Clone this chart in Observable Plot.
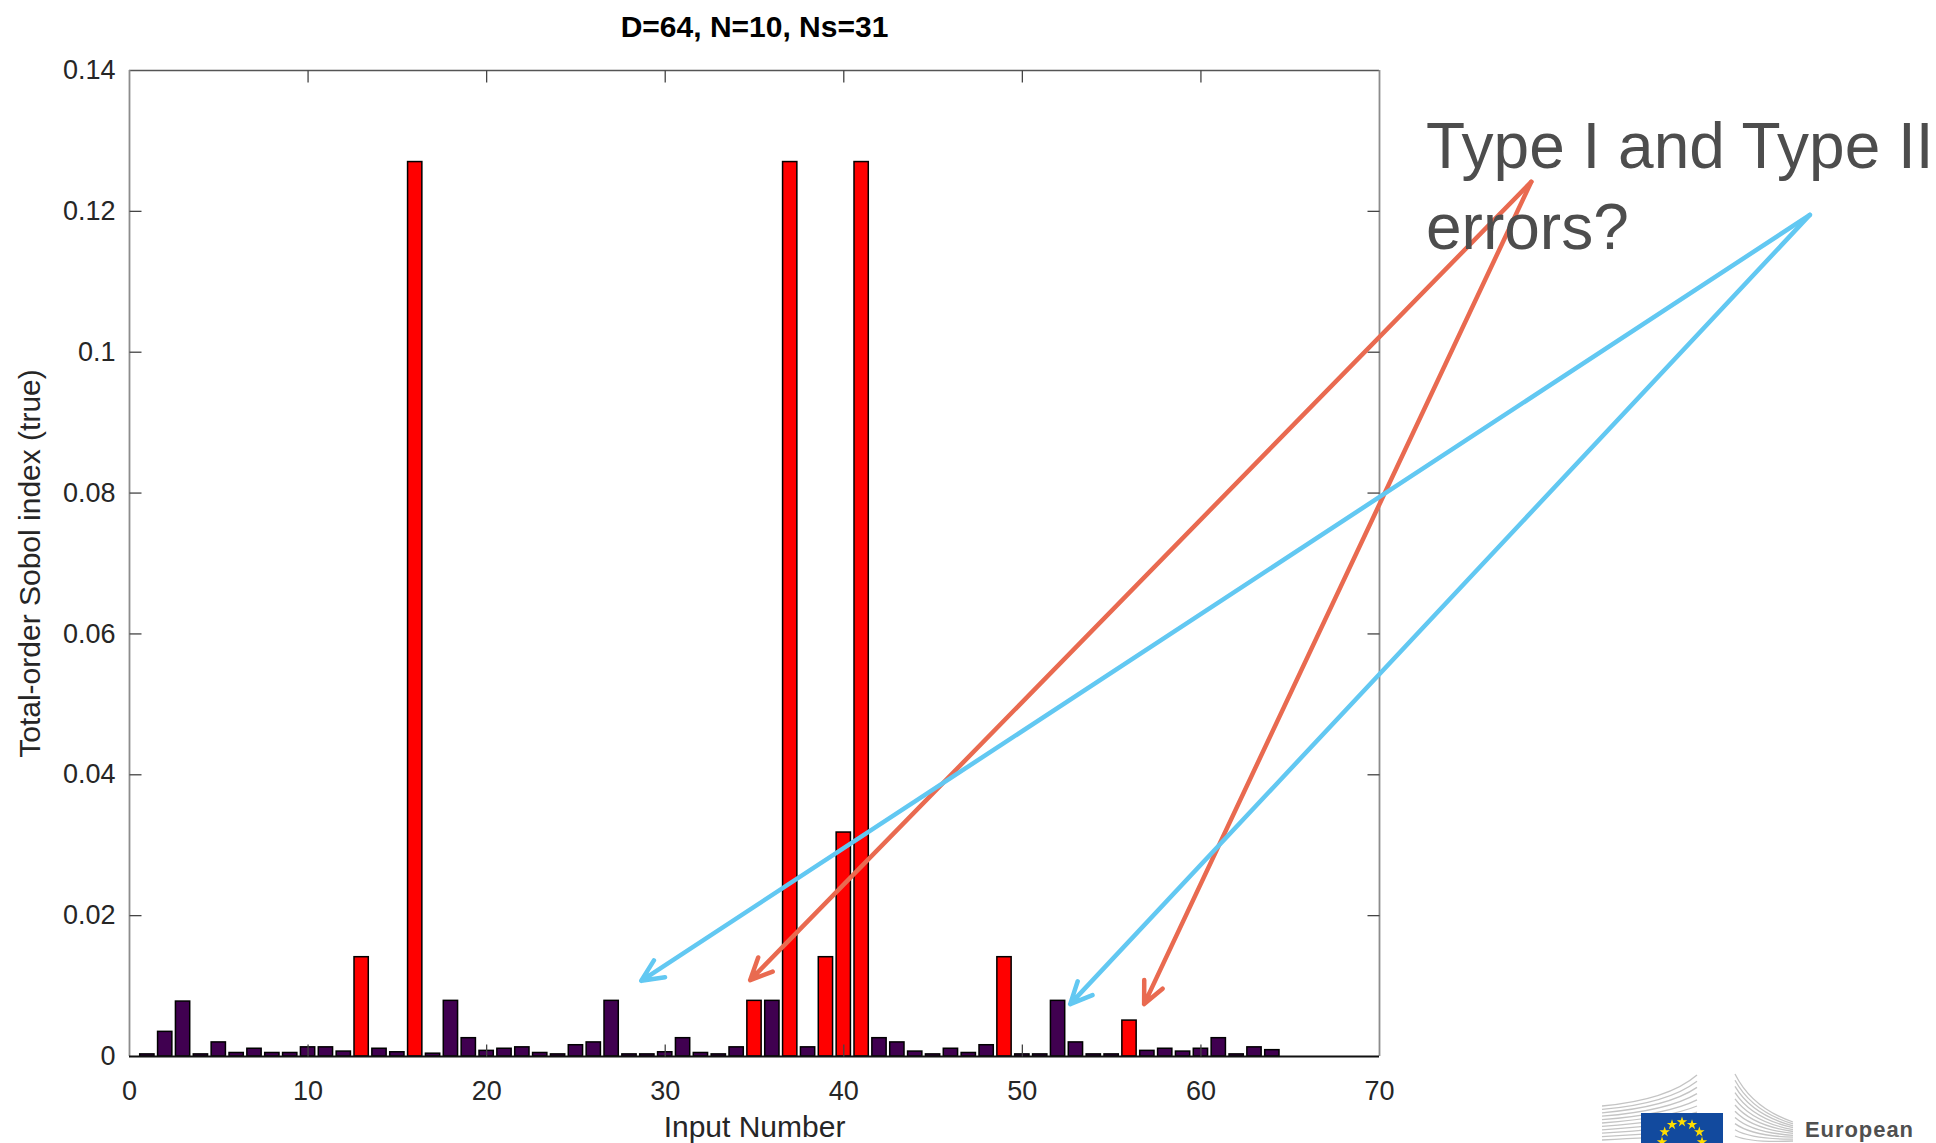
<!DOCTYPE html>
<html><head><meta charset="utf-8">
<script src="https://cdn.jsdelivr.net/npm/d3@7"></script>
<script src="https://cdn.jsdelivr.net/npm/@observablehq/plot@0.6"></script>
<style>
html,body{margin:0;padding:0;background:#fff;overflow:hidden;}
#wrap{position:relative;width:1936px;height:1143px;overflow:hidden;}
#chart{position:absolute;left:0;top:0;}
#note{position:absolute;left:1426px;top:106px;font-family:"Liberation Sans",Arial,Helvetica,sans-serif;font-size:64px;line-height:81px;color:#4d4d4d;white-space:nowrap;}
#logo{position:absolute;left:0;top:0;pointer-events:none;}
</style></head><body>
<div id="wrap"><div id="chart"></div><div id="note">Type I and Type II<br>errors?</div><svg id="logo" width="1936" height="1143"></svg></div>
<script>
// ---- data ----
const inputNumbers = [1,2,3,4,5,6,7,8,9,10,11,12,13,14,15,16,17,18,19,20,21,22,23,24,25,26,27,28,29,30,31,32,
  33,34,35,36,37,38,39,40,41,42,43,44,45,46,47,48,49,50,51,52,53,54,55,56,57,58,59,60,61,62,63,64];
const sobolTotal = [0.0003,0.0035,0.0078,0.0003,0.0020,0.0005,0.0011,0.0005,0.0005,0.0013,0.0013,0.0007,0.0141,0.0011,0.0006,0.127,
  0.0004,0.0079,0.0026,0.0008,0.0011,0.0013,0.0005,0.0003,0.0016,0.0020,0.0079,0.0003,0.0003,0.0006,0.0026,0.0005,
  0.0003,0.0013,0.0079,0.0079,0.127,0.0013,0.0141,0.0318,0.127,0.0026,0.0020,0.0007,0.0003,0.0011,0.0005,0.0016,
  0.0141,0.0003,0.0003,0.0079,0.0020,0.0003,0.0003,0.0051,0.0008,0.0011,0.0007,0.0011,0.0026,0.0003,0.0013,0.0009];
const influentialInputs = [13,16,35,37,39,40,41,49,56];
const xTicks = [0,10,20,30,40,50,60,70];
const yTicks = [0,0.02,0.04,0.06,0.08,0.1,0.12,0.14];
const yTickLabels = ["0","0.02","0.04","0.06","0.08","0.1","0.12","0.14"];
const titleText = "D=64, N=10, Ns=31";
const xLabel = "Input Number";
const yLabel = "Total-order Sobol index (true)";
// annotation arrows (from / to, in data units)
const arrowFromX = [78.5, 78.5, 94.1, 94.1];
const arrowFromY = [0.1242, 0.1242, 0.1195, 0.1195];
const arrowToX = [34.76, 56.82, 28.66, 52.68];
const arrowToY = [0.01085, 0.00744, 0.01075, 0.00744];
const arrowKind = ["typeI","typeI","typeII","typeII"];

// ---- build tables ----
const bars = inputNumbers.map((n, i) => ({n, v: sobolTotal[i], red: influentialInputs.includes(n)}));
const arrows = arrowKind.map((k, i) => ({k, x1: arrowFromX[i], y1: arrowFromY[i], x2: arrowToX[i], y2: arrowToY[i]}));
const innerX = xTicks.slice(1, -1);
const innerY = yTicks.slice(1, -1);
const halfBar = 0.4;

const TL = 12;
const symUp = {draw(c){c.moveTo(0,0);c.lineTo(0,-TL);}};
const symDown = {draw(c){c.moveTo(0,0);c.lineTo(0,TL);}};
const symRight = {draw(c){c.moveTo(0,0);c.lineTo(TL,0);}};
const symLeft = {draw(c){c.moveTo(0,0);c.lineTo(-TL,0);}};
const tickStyle = {fill: "none", stroke: "#444", strokeWidth: 1.3};
const FONT = '"Liberation Sans", Arial, Helvetica, sans-serif';

const chart = Plot.plot({
  width: 1936, height: 1143,
  marginLeft: 129, marginRight: 557, marginTop: 70, marginBottom: 87,
  x: {domain: [0, 70]},
  y: {domain: [0, 0.14]},
  style: {fontFamily: FONT, color: "#262626", background: "transparent", overflow: "visible"},
  marks: [
    Plot.rectY(bars.filter(d => !d.red), {x1: d => d.n - halfBar, x2: d => d.n + halfBar, y1: 0, y2: "v", fill: "#400050", stroke: "#000", strokeWidth: 1.5}),
    Plot.rectY(bars.filter(d => d.red), {x1: d => d.n - halfBar, x2: d => d.n + halfBar, y1: 0, y2: "v", fill: "#ff0000", stroke: "#000", strokeWidth: 1.5}),
    Plot.ruleY([0.14], {stroke: "#555", strokeWidth: 1.3}),
    Plot.ruleX([0, 70], {stroke: "#8c8c8c", strokeWidth: 1.8}),
    Plot.ruleY([0], {stroke: "#111", strokeWidth: 2}),
    Plot.dot(innerX, {x: d => d, y: 0, symbol: symUp, ...tickStyle}),
    Plot.dot(innerX, {x: d => d, y: 0.14, symbol: symDown, ...tickStyle}),
    Plot.dot(innerY, {x: 0, y: d => d, symbol: symRight, ...tickStyle}),
    Plot.dot(innerY, {x: 70, y: d => d, symbol: symLeft, ...tickStyle}),
    Plot.axisX(xTicks, {tickSize: 0, tickPadding: 24, fontSize: 27, label: null, tickFormat: d => String(d)}),
    Plot.axisY(yTicks, {tickSize: 0, tickPadding: 14, fontSize: 27, label: null, tickFormat: d => yTickLabels[yTicks.indexOf(d)]}),
    Plot.text([titleText], {text: d => d, frameAnchor: "top", lineAnchor: "top", dy: -55, fontSize: 30, fontWeight: "bold", fill: "#000"}),
    Plot.text([xLabel], {text: d => d, frameAnchor: "bottom", lineAnchor: "top", dy: 59, fontSize: 30, fill: "#262626"}),
    Plot.text([yLabel], {text: d => d, frameAnchor: "left", textAnchor: "middle", lineAnchor: "middle", rotate: -90, dx: -99, fontSize: 30, fill: "#262626"}),
    Plot.arrow(arrows, {x1: "x1", y1: "y1", x2: "x2", y2: "y2",
      stroke: d => d.k === "typeI" ? "#e96a50" : "#62c8f2",
      strokeWidth: 4.5, headLength: 8, headAngle: 50, strokeLinecap: "round", strokeLinejoin: "round"})
  ]
});
document.getElementById("chart").appendChild(chart);

// ---- decorative logo (bottom right) ----
const logo = d3.select("#logo");
const g = logo.append("g").attr("fill", "none").attr("stroke", "#c4c4c4").attr("stroke-width", 1.3);
for (let k = 0; k < 11; k++) {
  g.append("path").attr("d", `M1602,${1106 + k*3.4} Q1668,${1100 + k*3.6} 1697,${1075 + k*6.2}`);
  g.append("path").attr("d", `M1735,${1074 + k*6.2} Q1752,${1108 + k*3.5} 1793,${1122 + k*1.9}`);
}
logo.append("rect").attr("x", 1641).attr("y", 1113).attr("width", 82).attr("height", 40).attr("fill", "#124a9e");
const starPath = d3.symbol(d3.symbolStar, 34)();
for (let s = 0; s < 12; s++) {
  const a = s * Math.PI / 6;
  const sx = 1682 + 20 * Math.sin(a), sy = 1142 - 20 * Math.cos(a);
  if (sy < 1145) logo.append("path").attr("d", starPath).attr("transform", `translate(${sx},${sy})`).attr("fill", "#ffdd00");
}
logo.append("text").attr("x", 1805).attr("y", 1137).attr("font-family", FONT).attr("font-size", 22)
  .attr("font-weight", "bold").attr("fill", "#505050").attr("textLength", 108).text("European");
</script>
</body></html>
